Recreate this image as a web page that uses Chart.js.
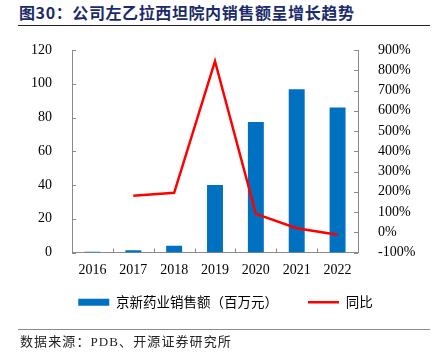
<!DOCTYPE html>
<html><head><meta charset="utf-8">
<script src="https://cdn.jsdelivr.net/npm/chart.js@4"></script>
<style>
html,body{margin:0;padding:0;background:#fff;width:435px;height:357px;overflow:hidden;position:relative}
#title{position:absolute;left:19px;top:2px;font-family:"Noto Sans CJK SC",sans-serif;font-weight:700;font-size:16px;color:#1b2a6b;letter-spacing:0.6px;white-space:nowrap;line-height:20px}
#tline{position:absolute;left:18px;top:25px;width:412px;height:1px;background:#222}
#sline{position:absolute;left:18px;top:329px;width:412px;height:1px;background:#8c8c8c}
#source{position:absolute;left:20px;top:333px;font-family:"Liberation Serif","Noto Sans CJK SC",serif;font-size:13px;color:#222;white-space:nowrap;line-height:18px;letter-spacing:1.1px}
#c{position:absolute;left:0;top:0}
</style></head><body>
<div id="title">图30：公司左乙拉西坦院内销售额呈增长趋势</div>
<div id="tline"></div>
<canvas id="c" width="435" height="357"></canvas>
<div id="sline"></div>
<div id="source">数据来源：PDB、开源证券研究所</div>
<script>
const categories = ['2016','2017','2018','2019','2020','2021','2022'];
const salesValues = [0.4, 1.4, 4.0, 40.0, 77.3, 96.7, 86.0];
const yoyValues = [null, 180, 195, 845, 91, 20, -12];
const leftTicks = [0, 20, 40, 60, 80, 100, 120];
const rightTicks = [-100, 0, 100, 200, 300, 400, 500, 600, 700, 800, 900];
const seriesNames = ['京新药业销售额（百万元）', '同比'];

const tickFont = {family: '"Liberation Serif","Times New Roman",serif', size: 14};
const axisColor = '#8a8a8a';

const innerTicks = {
  id: 'innerTicks',
  afterLayout(chart) {
    // let the x tick labels overflow their compact box without being clipped
    chart.scales.x.bottom = chart.scales.x.top + 30;
  },
  afterDraw(chart) {
    const ctx = chart.ctx, a = chart.chartArea;
    const x = chart.scales.x, y = chart.scales.y, y1 = chart.scales.y1;
    ctx.save();
    ctx.strokeStyle = axisColor; ctx.lineWidth = 1;
    ctx.beginPath();
    leftTicks.forEach(v => { const p = Math.round(y.getPixelForValue(v)) + 0.5; ctx.moveTo(a.left, p); ctx.lineTo(a.left + 4, p); });
    rightTicks.forEach(v => { const p = Math.round(y1.getPixelForValue(v)) + 0.5; ctx.moveTo(a.right, p); ctx.lineTo(a.right - 4, p); });
    for (let i = 1; i < categories.length; i++) {
      const p = Math.round((x.getPixelForValue(i - 1) + x.getPixelForValue(i)) / 2) + 0.5;
      ctx.moveTo(p, a.bottom); ctx.lineTo(p, a.bottom - 4);
    }
    ctx.stroke();
    ctx.restore();
  }
};

new Chart(document.getElementById('c'), {
  data: {
    labels: categories,
    datasets: [
      {type: 'line', label: seriesNames[1], data: yoyValues, yAxisID: 'y1', borderColor: '#ff0000', backgroundColor: '#ff0000', borderWidth: 2.5, pointRadius: 0, tension: 0, order: 0},
      {type: 'bar', label: seriesNames[0], data: salesValues, yAxisID: 'y', backgroundColor: '#0070c0', borderWidth: 0, categoryPercentage: 1, barPercentage: 0.39, order: 1}
    ]
  },
  options: {
    responsive: false, animation: false,
    layout: {padding: {left: 16, right: 0, top: 50, bottom: 38}},
    plugins: {
      tooltip: {enabled: false},
      legend: {
        position: 'bottom',
        reverse: true,
        labels: {
          usePointStyle: true, pointStyleWidth: 31, boxHeight: 7, padding: 30,
          color: '#222',
          font: {family: '"Noto Sans CJK SC",sans-serif', size: 13.5},
          generateLabels(chart) {
            return chart.data.datasets.map((d, i) => ({
              text: d.label, fillStyle: d.backgroundColor, strokeStyle: d.borderColor || d.backgroundColor,
              lineWidth: d.type === 'line' ? 2.5 : 0, pointStyle: d.type === 'line' ? 'line' : 'rect', datasetIndex: i, hidden: false
            }));
          }
        }
      }
    },
    scales: {
      x: {
        grid: {display: false}, border: {display: true, color: axisColor},
        ticks: {font: tickFont, color: '#000', padding: 1, maxRotation: 0},
        afterFit(s) { s.height = 13; }
      },
      y: {
        position: 'left', min: 0, max: 120,
        grid: {display: false}, border: {display: true, color: axisColor},
        afterBuildTicks(s) { s.ticks = leftTicks.map(v => ({value: v})); },
        ticks: {font: tickFont, color: '#000', padding: 12, autoSkip: false},
        afterFit(s) { s.width = 56; }
      },
      y1: {
        position: 'right', min: -100, max: 900,
        grid: {display: false}, border: {display: true, color: axisColor},
        afterBuildTicks(s) { s.ticks = rightTicks.map(v => ({value: v})); },
        ticks: {font: tickFont, color: '#000', padding: 12, autoSkip: false, callback: v => v + '%'},
        afterFit(s) { s.width = 77; }
      }
    }
  },
  plugins: [innerTicks]
});
</script>
</body></html>
